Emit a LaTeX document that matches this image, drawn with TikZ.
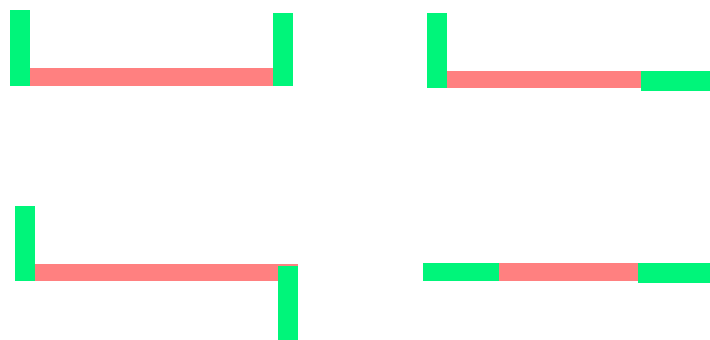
\documentclass[tikz,border=0pt]{standalone}
\definecolor{barGreen}{RGB}{0,245,122}
\definecolor{barRed}{RGB}{255,128,128}
\begin{document}
\begin{tikzpicture}[x=1pt,y=-1pt,
  gbar/.style={fill=barGreen,draw=none},
  rbar/.style={fill=barRed,draw=none}]
\useasboundingbox (0,0) rectangle (710,340);
% top-left
\fill[rbar] (30,68) rectangle (273,86);
\fill[gbar] (10,10) rectangle (30,86);
\fill[gbar] (273,13) rectangle (293,86);
% top-right
\fill[rbar] (447,71) rectangle (641,88);
\fill[gbar] (427,13) rectangle (447,88);
\fill[gbar] (641,71) rectangle (710,91);
% bottom-left
\fill[rbar] (35,264) rectangle (298,281);
\fill[gbar] (15,206) rectangle (35,281);
\fill[gbar] (278,266) rectangle (298,340);
% bottom-right
\fill[gbar] (423,263) rectangle (499,281);
\fill[rbar] (499,263) rectangle (638,281);
\fill[gbar] (638,263) rectangle (710,283);
\end{tikzpicture}
\end{document}
